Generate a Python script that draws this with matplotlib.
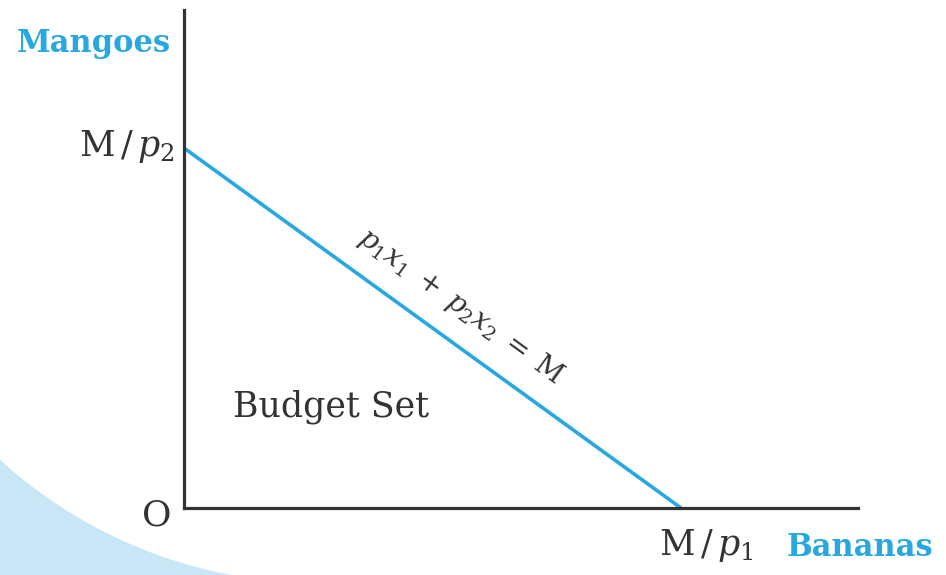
import numpy as np
import matplotlib
matplotlib.use('Agg')
import matplotlib.pyplot as plt
from matplotlib.patches import Polygon

# income and prices of the two goods
M = 120.0
p1 = 4.0   # price of bananas
p2 = 5.0   # price of mangoes
x_label = 'Bananas'
y_label = 'Mangoes'
region_label = 'Budget Set'

blue = '#27a8e0'
ink = '#333333'

plt.rcParams['font.family'] = ['DejaVu Serif']
plt.rcParams['mathtext.fontset'] = 'dejavuserif'

fig = plt.figure(figsize=(9.46, 5.75), dpi=100)

# pale corner decoration, drawn in pixel units on a background layer
bg = fig.add_axes([0, 0, 1, 1], zorder=0)
bg.set_xlim(0, 946)
bg.set_ylim(575, 0)
bg.axis('off')
cx, cy, r = 318.0, 111.0, 472.0
xs = np.linspace(-10, 262, 80)
ys = cy + np.sqrt(r ** 2 - (xs - cx) ** 2)
pts = np.column_stack([np.r_[xs, -10], np.r_[ys, 590]])
bg.add_patch(Polygon(pts, closed=True, fc='#c9e6f7', ec='none'))

ax = fig.add_axes([184 / 946, 67 / 575, 674 / 946, 498 / 575], zorder=1)
ax.patch.set_alpha(0)
xmax = 674 / 497 * (M / p1)
ymax = 498 / 360 * (M / p2)
ax.set_xlim(0, xmax)
ax.set_ylim(0, ymax)
for s in ['top', 'right']:
    ax.spines[s].set_visible(False)
for s in ['left', 'bottom']:
    ax.spines[s].set_color(ink)
    ax.spines[s].set_linewidth(2.3)
ax.set_xticks([])
ax.set_yticks([])

# budget line p1*x1 + p2*x2 = M
ax.plot([0, M / p1], [M / p2, 0], c=blue, lw=2.6, solid_capstyle='butt')

ax.annotate(r'$\mathrm{M}\,/\,p_2$', xy=(0, M / p2), xytext=(-9, 1),
            textcoords='offset pixels', ha='right', va='center',
            fontsize=25, color=ink)
ax.annotate(r'$\mathrm{M}\,/\,p_1$', xy=(M / p1, 0), xytext=(25, -38),
            textcoords='offset pixels', ha='center', va='center',
            fontsize=25, color=ink)
ax.annotate('O', xy=(0, 0), xytext=(-27, -8), textcoords='offset pixels',
            ha='center', va='center', fontsize=26, color=ink)
ax.annotate(y_label, xy=(0, 1), xycoords='axes fraction', xytext=(-90, -34),
            textcoords='offset pixels', ha='center', va='center',
            fontsize=22, fontweight='bold', color=blue)
ax.annotate(x_label, xy=(1, 0), xycoords='axes fraction', xytext=(2, -39),
            textcoords='offset pixels', ha='center', va='center',
            fontsize=22, fontweight='bold', color=blue)
ax.annotate(region_label, xy=(0, 0), xytext=(147, 101),
            textcoords='offset pixels', ha='center', va='center',
            fontsize=25, color=ink)

# equation written along the budget line
mid = (M / p1 / 2, M / p2 / 2)
p_a = ax.transData.transform((0, M / p2))
p_b = ax.transData.transform((M / p1, 0))
angle = np.degrees(np.arctan2(p_b[1] - p_a[1], p_b[0] - p_a[0]))
ax.annotate(r'$p_1 x_1\;+\;p_2 x_2\;=\;\mathrm{M}$', xy=mid, xytext=(28, 22),
            textcoords='offset pixels', ha='center', va='center',
            rotation=angle, rotation_mode='anchor', fontsize=20, color=ink)

fig.savefig('out.png', dpi=100)
